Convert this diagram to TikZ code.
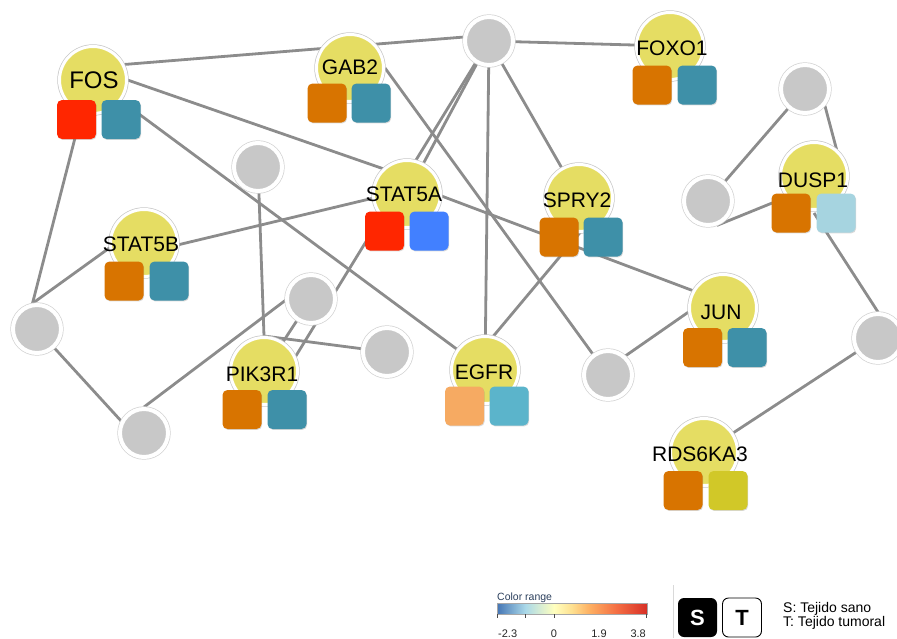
\documentclass[tikz,border=0pt]{standalone}
\usepackage{fontspec}
\setmainfont{Liberation Sans}
\usetikzlibrary{shadows,calc}
\pgfdeclarelayer{bg}
\pgfsetlayers{bg,main}
\definecolor{genefill}{RGB}{229,221,99}
\definecolor{nodegray}{RGB}{200,200,200}
\definecolor{edgec}{RGB}{140,140,140}
\definecolor{cOr}{RGB}{216,116,0}
\definecolor{cTeal}{RGB}{62,144,168}
\definecolor{cRed}{RGB}{255,38,0}
\definecolor{cBlue}{RGB}{66,128,255}
\definecolor{cLOr}{RGB}{246,170,98}
\definecolor{cLTeal}{RGB}{91,180,203}
\definecolor{cLBlue}{RGB}{166,212,224}
\definecolor{cOlive}{RGB}{209,200,40}
\definecolor{legtext}{RGB}{43,63,92}
\definecolor{cr1}{RGB}{69,117,180}
\definecolor{cr2}{RGB}{171,217,233}
\definecolor{cr3}{RGB}{255,255,191}
\definecolor{cr4}{RGB}{254,224,144}
\definecolor{cr5}{RGB}{253,174,97}
\definecolor{cr6}{RGB}{244,109,67}
\definecolor{cr7}{RGB}{215,48,39}
\pgfdeclarehorizontalshading{colrange}{100bp}{color(0bp)=(cr1); color(25bp)=(cr1); color(34.5bp)=(cr2); color(44bp)=(cr3); color(50bp)=(cr4); color(56bp)=(cr5); color(65bp)=(cr6); color(75bp)=(cr7); color(100bp)=(cr7)}
\begin{document}
\begin{tikzpicture}[x=1pt,y=-1pt,
  edge/.style={draw=edgec, line width=2.8pt},
  genec/.style={circle, fill=genefill, draw=white, line width=3pt, minimum size=67pt, inner sep=0pt, preaction={draw=black!22, line width=4.4pt}},
  grayc/.style={circle, fill=nodegray, draw=white, line width=4pt, minimum size=48pt, inner sep=0pt, preaction={draw=black!18, line width=5.4pt}},
  sq/.style={rectangle, rounded corners=5pt, minimum size=39pt, inner sep=0pt, drop shadow={shadow xshift=0.7pt, shadow yshift=-0.9pt, opacity=0.3}},
  lbl/.style={font=\fontsize{21}{21}\selectfont, inner sep=0pt, text=black},
  legbox/.style={rectangle, rounded corners=6pt, minimum size=39pt, inner sep=0pt, font=\fontsize{22}{22}\selectfont\bfseries},
  legtxt/.style={font=\fontsize{14}{14}\selectfont, inner sep=0pt, anchor=base west},
  ticklbl/.style={font=\fontsize{11}{11}\selectfont, inner sep=0pt, text=black!85},
]
\useasboundingbox (0,0) rectangle (897,638);

% gray nodes
\node[grayc] (gTop) at (489,41) {};
\node[grayc] (g805) at (805,89) {};
\node[grayc] (g708) at (708,201) {};
\node[grayc] (g258) at (258,167) {};
\node[grayc] (gL) at (37,329) {};
\node[grayc] (g144) at (144,433) {};
\node[grayc] (g311) at (311,299) {};
\node[grayc] (g387) at (387,352) {};
\node[grayc] (g608) at (608,375) {};
\node[grayc] (g878) at (878,338) {};

% gene nodes
\node[genec] (FOS) at (93,80) {};
\node[sq, fill=cRed] (FOSa) at (76.5,119.5) {};
\node[sq, fill=cTeal] (FOSb) at (121,119.5) {};
\node[lbl, font=\fontsize{24}{24}\selectfont] (FOSl) at (94,80) {FOS};

\node[genec] (GAB2) at (350,68) {};
\node[sq, fill=cOr] (GAB2a) at (327,103) {};
\node[sq, fill=cTeal] (GAB2b) at (371,103) {};
\node[lbl] (GAB2l) at (350,67) {GAB2};

\node[genec] (FOXO1) at (670,46) {};
\node[sq, fill=cOr] (FOXO1a) at (652,85) {};
\node[sq, fill=cTeal] (FOXO1b) at (697,85) {};
\node[lbl] (FOXO1l) at (672,48) {FOXO1};

\node[genec] (DUSP1) at (814,176) {};
\node[sq, fill=cOr] (DUSP1a) at (791,213) {};
\node[sq, fill=cLBlue] (DUSP1b) at (836,213) {};
\node[lbl] (DUSP1l) at (813,180) {DUSP1};

\node[genec] (STAT5A) at (407,194) {};
\node[sq, fill=cRed] (STAT5Aa) at (384.5,231) {};
\node[sq, fill=cBlue] (STAT5Ab) at (429,231) {};
\node[lbl] (STAT5Al) at (404,194) {STAT5A};

\node[genec] (SPRY2) at (579,198) {};
\node[sq, fill=cOr] (SPRY2a) at (559,237) {};
\node[sq, fill=cTeal] (SPRY2b) at (603,237) {};
\node[lbl] (SPRY2l) at (577,200) {SPRY2};

\node[genec] (STAT5B) at (144,243) {};
\node[sq, fill=cOr] (STAT5Ba) at (124,281) {};
\node[sq, fill=cTeal] (STAT5Bb) at (169,281) {};
\node[lbl] (STAT5Bl) at (141,244) {STAT5B};

\node[genec] (JUN) at (723,308) {};
\node[sq, fill=cOr] (JUNa) at (702.5,347.5) {};
\node[sq, fill=cTeal] (JUNb) at (747,347.5) {};
\node[lbl] (JUNl) at (721,312) {JUN};

\node[genec] (PIK3R1) at (264,371) {};
\node[sq, fill=cOr] (PIK3R1a) at (242,409.5) {};
\node[sq, fill=cTeal] (PIK3R1b) at (287,409.5) {};
\node[lbl] (PIK3R1l) at (262,374) {PIK3R1};

\node[genec] (EGFR) at (485,370) {};
\node[sq, fill=cLOr] (EGFRa) at (464.5,406) {};
\node[sq, fill=cLTeal] (EGFRb) at (509,406) {};
\node[lbl] (EGFRl) at (484,372) {EGFR};

\node[genec] (RDS) at (704,452) {};
\node[sq, fill=cOr] (RDSa) at (683,490.5) {};
\node[sq, fill=cOlive] (RDSb) at (728,490.5) {};
\node[lbl] (RDSl) at (700,454) {RDS6KA3};

% edges
\begin{pgfonlayer}{bg}
\draw[edge] ($(FOS.center)+(0,-13)$) -- ($(gTop.center)+(0,-6)$);
\draw[edge] ($(FOS.center)+(0,-12)$) -- ($(STAT5A.center)+(0,-17)$);
\draw[edge] (FOS.center) -- (EGFR.center);
\draw[edge] ($(FOS.center)+(0,-12)$) -- (gL.100);
\draw[edge] (GAB2.east) -- (g608.center);
\draw[edge] (gTop.center) -- (FOXO1.center);
\draw[edge] (gTop.center) -- (STAT5A.center);
\draw[edge] (gTop.center) -- (PIK3R1.25);
\draw[edge] (gTop.center) -- (EGFR.center);
\draw[edge] (gTop.center) -- (SPRY2.center);
\draw[edge] ($(STAT5A.center)+(0,-4)$) -- ($(STAT5B.center)+(0,10)$);
\draw[edge] ($(STAT5A.center)+(0,-11)$) -- ($(JUN.center)+(0,-6)$);
\draw[edge] ($(SPRY2.center)+(30,0)$) -- ($(EGFR.center)+(-20,0)$);
\draw[edge] ($(JUN.center)+(0,-20)$) -- ($(g608.center)+(0,-7)$);
\draw[edge] ($(DUSP1.center)+(0,10)$) -- (g708.-70);
\draw[edge] (DUSP1.50) -- (g805.-40);
\draw[edge] (g805.center) -- (g708.center);
\draw[edge] ($(DUSP1.center)+(0,37)$) -- (g878.north);
\draw[edge] (g878.center) -- (RDS.center);
\draw[edge] (g258.center) -- (PIK3R1.north);
\draw[edge] (g311.center) -- (PIK3R1.center);
\draw[edge] ($(g311.center)+(0,-18)$) -- (g144.north);
\draw[edge] (PIK3R1.north) -- (g387.center);
\draw[edge] (gL.center) -- ($(g144.center)+(0,13)$);
\draw[edge] (gL.100) -- ($(STAT5B.center)+(0,-20)$);
\end{pgfonlayer}

% legend
\node[font=\fontsize{10.5}{10.5}\selectfont, text=legtext, anchor=base west, inner sep=0pt] (crt) at (497,600.5) {Color range};
\shade[shading=colrange, draw=black!35, line width=0.4pt] (497,603) rectangle (647,614);
\foreach \tx in {497,525,554,646}{\draw[black!70, line width=0.6pt] (\tx,614) -- (\tx,618);}
\node[ticklbl, anchor=base west] (t1) at (498,637) {-2.3};
\node[ticklbl, anchor=base] (t2) at (554,637) {0};
\node[ticklbl, anchor=base] (t3) at (599,637) {1.9};
\node[ticklbl, anchor=base east] (t4) at (646,637) {3.8};
\draw[black!15, line width=0.8pt] (673,585) -- (673,638);
\node[legbox, fill=black, text=white] (Sbox) at (697.5,617.5) {S};
\node[legbox, fill=white, draw=black, line width=0.9pt, text=black] (Tbox) at (742,617.5) {T};
\node[legtxt] (Stxt) at (783,612.5) {S: Tejido sano};
\node[legtxt] (Ttxt) at (783,626.5) {T: Tejido tumoral};
\end{tikzpicture}
\end{document}
